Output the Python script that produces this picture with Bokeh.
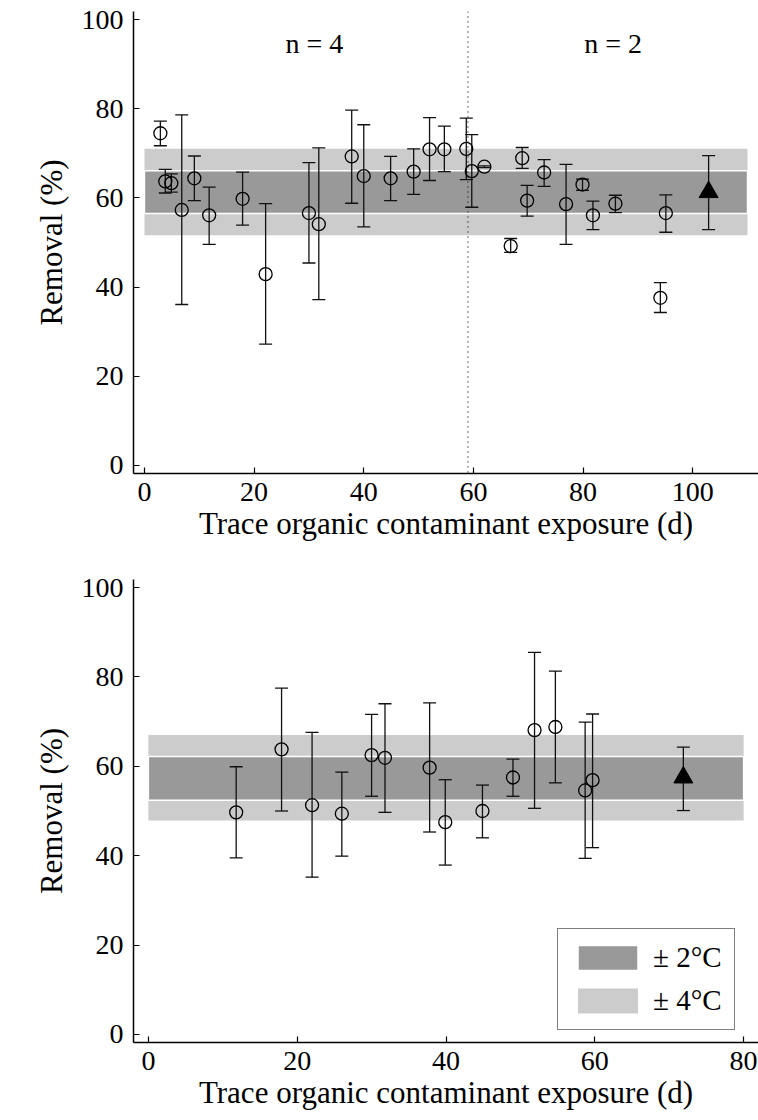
from bokeh.plotting import figure
from bokeh.models import (ColumnDataSource, Whisker, TeeHead, Range1d, Span, Label,
                          Legend, LegendItem, FixedTicker)
from bokeh.layouts import column
from bokeh.embed import file_html
from bokeh.resources import INLINE
from bokeh.core.properties import value

# ---------------- data: panel (a) ----------------
a_x = [2.9, 3.8, 4.9, 6.8, 9.1, 11.8, 17.9, 22.1, 30.0, 31.8, 37.8, 40.0, 44.9, 49.1, 52.0,
       54.7, 58.7, 59.7, 62.0, 66.8, 68.9, 69.8, 72.9, 76.9, 79.9, 81.8, 85.9, 94.1, 95.1]
a_y = [74.5, 63.7, 63.3, 57.3, 64.4, 56.1, 59.8, 42.9, 56.6, 54.1, 69.3, 64.9, 64.4, 65.9, 70.9,
       70.9, 71.0, 66.0, 67.0, 49.2, 68.9, 59.4, 65.7, 58.6, 63.0, 56.1, 58.7, 37.6, 56.6]
a_upper = [77.2, 66.4, 65.4, 78.6, 69.4, 62.4, 65.8, 58.7, 67.9, 71.2, 79.7, 76.4, 69.3, 71.0, 78.0,
           76.1, 77.9, 74.2, 67.2, 50.9, 71.3, 62.8, 68.6, 67.5, 64.2, 59.3, 60.6, 41.0, 60.7]
a_lower = [71.7, 61.1, 61.3, 36.1, 59.4, 49.6, 53.9, 27.2, 45.4, 37.2, 58.8, 53.5, 59.4, 60.8, 63.9,
           65.9, 64.1, 57.9, 66.8, 47.8, 66.6, 55.9, 62.6, 49.6, 61.7, 52.9, 56.7, 34.3, 52.3]
a_mean_x, a_mean_y, a_mean_up, a_mean_lo = [102.9], [61.3], [69.5], [52.9]
a_band2 = (56.5, 66.1)   # +/- 2 C
a_band4 = (51.6, 71.0)   # +/- 4 C
a_band_x = (0, 110)
a_split = 59
a_n_labels = ["n = 4", "n = 2"]
a_n_x = [31, 85.5]

# ---------------- data: panel (b) ----------------
b_x = [11.8, 17.9, 22.0, 26.0, 30.0, 31.8, 37.8, 39.9, 44.9, 49.0, 51.9, 54.7, 58.7, 59.7]
b_y = [49.7, 63.8, 51.3, 49.4, 62.5, 61.9, 59.7, 47.5, 50.0, 57.5, 68.1, 68.8, 54.6, 56.9]
b_upper = [59.9, 77.5, 67.6, 58.7, 71.6, 74.0, 74.2, 57.0, 55.8, 61.6, 85.5, 81.3, 69.9, 71.7]
b_lower = [39.5, 50.0, 35.2, 39.9, 53.3, 49.7, 45.3, 37.9, 44.0, 53.3, 50.6, 56.3, 39.4, 41.8]
b_mean_x, b_mean_y, b_mean_up, b_mean_lo = [71.9], [57.5], [64.3], [50.1]
b_band2 = (52.4, 62.2)
b_band4 = (47.9, 67.0)
b_band_x = (0, 80)

y_ticks = [0, 20, 40, 60, 80, 100]
a_x_ticks = [0, 20, 40, 60, 80, 100]
b_x_ticks = [0, 20, 40, 60, 80]
legend_labels = ["\u00b1 2\u00b0C", "\u00b1 4\u00b0C"]
panel_tags = ["(a)", "(b)"]

SERIF = "Liberation Serif"
DARK = "#999999"
LIGHT = "#cccccc"


def make_panel(xr, xticks, xs, ys, ups, los, mx, my, mup, mlo, band2, band4, band_x,
               top_border, bottom_border):
    p = figure(width=758, height=560, output_backend="svg", toolbar_location=None,
               x_range=Range1d(*xr), y_range=Range1d(-1.8, 101.8),
               min_border_left=133, min_border_right=0,
               min_border_top=top_border, min_border_bottom=bottom_border)
    p.outline_line_color = None
    p.grid.visible = False
    p.background_fill_color = "white"
    p.border_fill_color = "white"

    light = p.quad(left=[band_x[0]], right=[band_x[1]], bottom=[band4[0]], top=[band4[1]],
                   fill_color=LIGHT, line_color=None)
    dark = p.quad(left=[band_x[0]], right=[band_x[1]], bottom=[band2[0]], top=[band2[1]],
                  fill_color=DARK, line_color="white", line_width=1.5)

    src = ColumnDataSource(dict(x=xs, y=ys, upper=ups, lower=los))
    w = Whisker(base="x", upper="upper", lower="lower", source=src,
                line_color="#111111", line_width=1.3, level="annotation",
                upper_head=TeeHead(size=13, line_color="#111111", line_width=1.3),
                lower_head=TeeHead(size=13, line_color="#111111", line_width=1.3))
    p.add_layout(w)
    p.scatter("x", "y", source=src, marker="circle", size=13, fill_color=None,
              line_color="black", line_width=1.3, level="overlay")

    msrc = ColumnDataSource(dict(x=mx, y=my, upper=mup, lower=mlo))
    mw = Whisker(base="x", upper="upper", lower="lower", source=msrc,
                 line_color="#111111", line_width=1.3, level="annotation",
                 upper_head=TeeHead(size=13, line_color="#111111", line_width=1.3),
                 lower_head=TeeHead(size=13, line_color="#111111", line_width=1.3))
    p.add_layout(mw)
    p.scatter("x", "y", source=msrc, marker="triangle", size=19, fill_color="black",
              line_color="black", level="overlay")

    for ax in (p.xaxis[0], p.yaxis[0]):
        ax.axis_line_color = "black"
        ax.axis_line_width = 1.5
        ax.major_tick_line_color = "black"
        ax.major_tick_line_width = 1.2
        ax.major_tick_in = 6
        ax.major_tick_out = 0
        ax.minor_tick_line_color = None
        ax.major_label_text_font = SERIF
        ax.major_label_text_font_size = "28px"
        ax.major_label_text_color = "black"
        ax.axis_label_text_font = SERIF
        ax.axis_label_text_font_size = "31px"
        ax.axis_label_text_font_style = "normal"
        ax.axis_label_text_color = "black"
    p.xaxis.ticker = FixedTicker(ticks=xticks)
    p.yaxis.ticker = FixedTicker(ticks=y_ticks)
    p.xaxis.axis_label = "Trace organic contaminant exposure (d)"
    p.yaxis.axis_label = "Removal (%)"
    p.xaxis.major_label_standoff = 9
    p.yaxis.major_label_standoff = 10
    p.xaxis.axis_label_standoff = 2
    p.yaxis.axis_label_standoff = 10
    return p, dark, light


pa, da, la = make_panel((-2, 112), a_x_ticks, a_x, a_y, a_upper, a_lower,
                        a_mean_x, a_mean_y, a_mean_up, a_mean_lo, a_band2, a_band4, a_band_x,
                        11, 87)
pa.add_layout(Span(location=a_split, dimension="height", line_color="#111111",
                   line_width=1.2, line_dash="1 4"))
for t, xx in zip(a_n_labels, a_n_x):
    pa.text(x=[xx], y=[94.6], text=[t], text_font=value(SERIF), text_font_size="28px",
            text_align="center", text_baseline="middle", text_color="black")
pa.add_layout(Label(x=-20.7, y=99.3, text=panel_tags[0], text_font=SERIF,
                    text_font_size="29px", text_font_style="bold", text_align="center",
                    text_baseline="middle", text_color="black"))

pb, db, lb = make_panel((-2, 82), b_x_ticks, b_x, b_y, b_upper, b_lower,
                        b_mean_x, b_mean_y, b_mean_up, b_mean_lo, b_band2, b_band4, b_band_x,
                        19, 78)
pb.add_layout(Label(x=-15.7, y=100.3, text=panel_tags[1], text_font=SERIF,
                    text_font_size="29px", text_font_style="bold", text_align="center",
                    text_baseline="middle", text_color="black"))

legend = Legend(items=[LegendItem(label=legend_labels[0], renderers=[db]),
                       LegendItem(label=legend_labels[1], renderers=[lb])],
                location=(424, 12), glyph_width=75, glyph_height=31, padding=12,
                spacing=10, label_standoff=8, margin=0,
                label_text_font=SERIF, label_text_font_size="29px",
                label_text_color="black", border_line_color="black",
                border_line_width=1.3, background_fill_color="white",
                background_fill_alpha=1.0)
pb.add_layout(legend)

layout = column(pa, pb, spacing=0)
open("out.html", "w").write(file_html(layout, INLINE))
